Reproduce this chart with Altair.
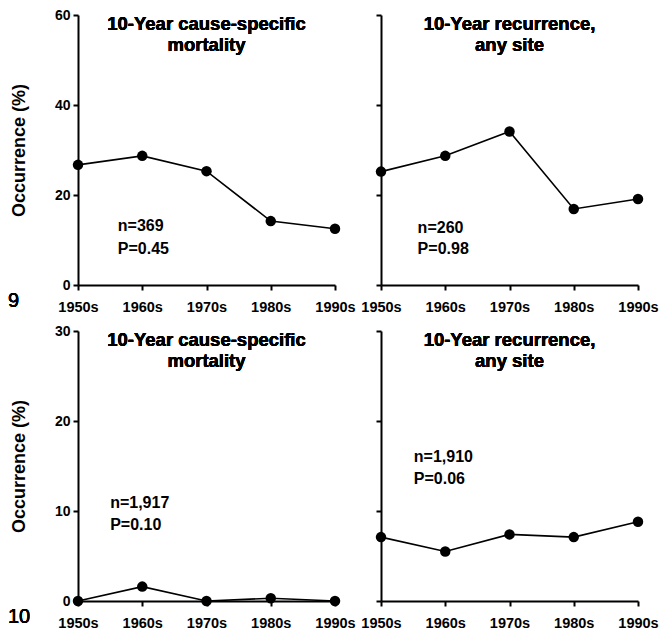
import altair as alt
import pandas as pd

decades = ["1950s", "1960s", "1970s", "1980s", "1990s"]
mort_9 = [26.7, 28.7, 25.3, 14.2, 12.5]
recur_9 = [25.2, 28.7, 34.1, 16.9, 19.1]
mort_10 = [0.0, 1.6, 0.0, 0.3, 0.0]
recur_10 = [7.1, 5.5, 7.4, 7.1, 8.8]

title_mort = ["10-Year cause-specific", "mortality"]
title_recur = ["10-Year recurrence,", "any site"]

ann_text = [["n=369", "P=0.45"], ["n=260", "P=0.98"], ["n=1,917", "P=0.10"], ["n=1,910", "P=0.06"]]
ann_x = [0.62, 0.57, 0.50, 0.51]
ann_y = [[13.1, 8.0], [12.7, 8.0], [10.9, 8.5], [16.0, 13.6]]

W = 257
H = 270
FONT = "Liberation Sans, Arial, sans-serif"

label_expr = "[" + ",".join("'%s'" % d for d in decades) + "][datum.value]"


def panel(values, ymax, ystep, title_lines, ann_t, ax, ay, left, fig_label=None):
    df = pd.DataFrame({"idx": list(range(len(decades))), "value": values})
    x = alt.X(
        "idx:Q",
        scale=alt.Scale(domain=[0, len(decades) - 1], nice=False, zero=False),
        axis=alt.Axis(values=list(range(len(decades))), labelExpr=label_expr, title=None,
                      labelFlush=False, labelOverlap=False, labelPadding=10,
                      labelFontSize=14.5),
    )
    y = alt.Y(
        "value:Q",
        scale=alt.Scale(domain=[0, ymax], nice=False),
        axis=alt.Axis(
            values=list(range(0, ymax + 1, ystep)),
            labels=left,
            title="Occurrence (%)" if left else None,
            labelFlush=False,
        ),
    )
    base = alt.Chart(df)
    line = base.mark_line(color="black", strokeWidth=1.6).encode(x=x, y=y)
    pts = base.mark_circle(color="black", opacity=1, size=110).encode(x=x, y=y)
    adf = pd.DataFrame({"idx": [ax, ax], "value": ay, "t": ann_t})
    ann = alt.Chart(adf).mark_text(
        align="left", baseline="middle", fontSize=16, fontWeight="bold", font=FONT, color="black"
    ).encode(x=x, y=y, text="t:N")
    ttl = alt.Chart(df).mark_text(
        align="center", baseline="top", fontSize=18.5, fontWeight="bold", font=FONT,
        color="black", lineHeight=21,
    ).encode(x=alt.value(W / 2), y=alt.value(0), text=alt.value(title_lines))
    layers = [line, pts, ann, ttl]
    if fig_label is not None:
        fl = alt.Chart(df).mark_text(
            align="left", baseline="middle", fontSize=20, font=FONT, color="black"
        ).encode(x=alt.value(-70), y=alt.value(H + 16), text=alt.value(fig_label))
        layers.append(fl)
    return alt.layer(*layers).properties(width=W, height=H)


p1 = panel(mort_9, 60, 20, title_mort, ann_text[0], ann_x[0], ann_y[0], True, "9")
p2 = panel(recur_9, 60, 20, title_recur, ann_text[1], ann_x[1], ann_y[1], False)
p3 = panel(mort_10, 30, 10, title_mort, ann_text[2], ann_x[2], ann_y[2], True, "10")
p4 = panel(recur_10, 30, 10, title_recur, ann_text[3], ann_x[3], ann_y[3], False)

chart = alt.concat(p1, p2, p3, p4, columns=2, spacing=46, bounds="flush", padding=0).configure_view(
    stroke=None
).configure_axis(
    grid=False,
    domainColor="black",
    domainWidth=2,
    tickColor="black",
    tickWidth=2,
    tickSize=5,
    labelFont=FONT,
    labelFontSize=14,
    labelFontWeight="bold",
    labelColor="black",
    labelPadding=3,
    titleFont=FONT,
    titleFontSize=18,
    titleFontWeight="bold",
    titleColor="black",
    titlePadding=26,
)

chart.save("out.html", embed_options={"renderer": "svg", "actions": False})
